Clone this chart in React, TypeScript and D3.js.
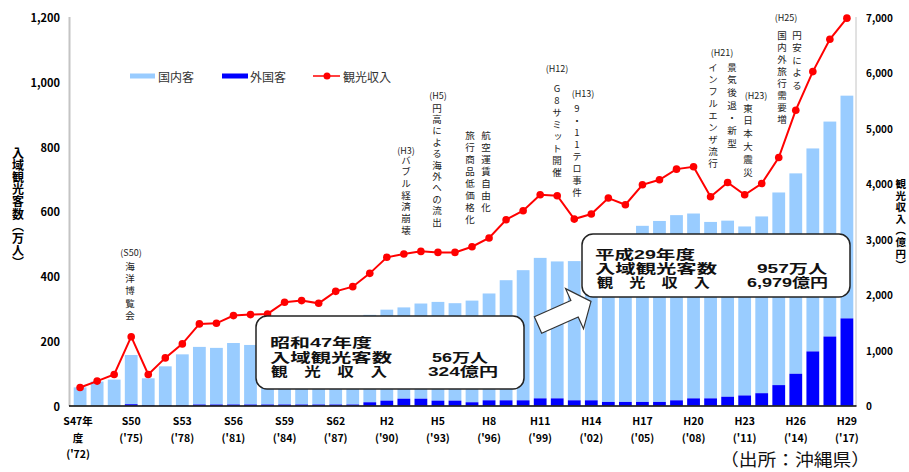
import React from 'react';
import * as d3 from 'd3';

// Fiscal years S47 (1972) .. H29 (2017)
const categories = [
  'S47','S48','S49','S50','S51','S52','S53','S54','S55','S56','S57','S58','S59','S60','S61','S62','S63',
  'H1','H2','H3','H4','H5','H6','H7','H8','H9','H10','H11','H12','H13','H14','H15','H16','H17','H18','H19',
  'H20','H21','H22','H23','H24','H25','H26','H27','H28','H29',
];
// 入域観光客数 total (万人)
const totalVisitors = [
  56, 74, 80, 156, 84, 121, 158, 181, 178, 193, 187, 191, 199, 203, 215, 241, 262,
  280, 296, 303, 315, 320, 316, 324, 346, 387, 418, 456, 445, 446, 483, 508, 515, 555, 570, 588,
  593, 567, 571, 553, 584, 658, 717, 794, 877, 957,
];
// 外国客 (万人)
const foreignVisitors = [
  0, 0, 0, 4, 1, 1, 1, 3, 3, 3, 3, 3, 3, 3, 3, 3, 3,
  10, 15, 21, 21, 15, 15, 10, 16, 16, 16, 22, 22, 16, 16, 11, 11, 11, 11, 16,
  22, 22, 27, 31, 38, 63, 98, 167, 213, 269,
];
// 観光収入 (億円)
const tourismRevenue = [
  324, 440, 558, 1240, 558, 858, 1110, 1470, 1481, 1620, 1638, 1650, 1860, 1890, 1841, 2057, 2141,
  2381, 2670, 2730, 2777, 2759, 2759, 2861, 3018, 3347, 3509, 3797, 3779, 3359, 3450, 3738, 3617, 3977, 4067, 4259,
  4301, 3760, 4018, 3797, 4000, 4468, 5321, 6016, 6599, 6979,
];
const leftTicks = [0, 200, 400, 600, 800, 1000, 1200];
const rightTicks = [0, 1000, 2000, 3000, 4000, 5000, 6000, 7000];
const xTickCats = ['S47','S50','S53','S56','S59','S62','H2','H5','H8','H11','H14','H17','H20','H23','H26','H29'];
const xTickLabels = [
  ['S47年', '度', "('72)"], ['S50', "('75)"], ['S53', "('78)"], ['S56', "('81)"], ['S59', "('84)"],
  ['S62', "('87)"], ['H2', "('90)"], ['H5', "('93)"], ['H8', "('96)"], ['H11', "('99)"], ['H14', "('02)"],
  ['H17', "('05)"], ['H20', "('08)"], ['H23', "('11)"], ['H26', "('14)"], ['H29', "('17)"],
];
const legendLabels = ['国内客', '外国客', '観光収入'];
const leftTitle = '入域観光客数（万人）';
const rightTitle = '観光収入（億円）';

const annotations = [
  { label: '(S50)', lx: 131, ly: 252, cols: [{ t: '海洋博覧会', x: 130, y: 266, s: 12.3 }] },
  { label: '(H3)', lx: 406, ly: 150, cols: [{ t: 'バブル経済崩壊', x: 406, y: 160, s: 11.7 }] },
  { label: '(H5)', lx: 438, ly: 95, cols: [{ t: '円高による海外への流出', x: 437, y: 108, s: 11.4 }] },
  { label: '', lx: 0, ly: 0, cols: [{ t: '航空運賃自由化', x: 486, y: 135, s: 12 }, { t: '旅行商品低価格化', x: 470, y: 135, s: 12.1 }] },
  { label: '(H12)', lx: 557, ly: 68, cols: [{ t: 'G8サミット開催', x: 557, y: 88, s: 12.1 }] },
  { label: '(H13)', lx: 583, ly: 93, cols: [{ t: '9・11テロ事件', x: 577, y: 108, s: 12.1 }] },
  { label: '(H21)', lx: 722, ly: 52, cols: [{ t: '景気後退・新型', x: 732, y: 67, s: 12.7 }, { t: 'インフルエンザ流行', x: 713, y: 67, s: 12 }] },
  { label: '(H23)', lx: 756, ly: 95, cols: [{ t: '東日本大震災', x: 748, y: 108, s: 12.8 }] },
  { label: '(H25)', lx: 786, ly: 17, cols: [{ t: '円安による', x: 797, y: 35, s: 12.5 }, { t: '国内外旅行需要増', x: 782, y: 35, s: 12.1 }] },
];

const JP = '"Noto Sans CJK JP", "Noto Sans", sans-serif';
const LAT = '"Liberation Sans", "Noto Sans CJK JP", sans-serif';

// vertical text: one upright vertical-mode text element per character (first char centred at y0)
function VText({ t, x, y0, step, size, weight, fill }: any) {
  const chars = Array.from(t as string);
  return (
    <g>
      {chars.map((ch, j) => (
        <text key={j} x={x} y={y0 + j * step - size / 2} fontFamily={JP} fontSize={size}
          fontWeight={weight || 'normal'} fill={fill || '#222'}
          style={{ writingMode: 'vertical-rl', textOrientation: 'upright' } as any}>{ch}</text>
      ))}
    </g>
  );
}

export default function App() {
  const x = d3.scaleBand<string>().domain(categories).range([72, 855]).paddingInner(0.25).paddingOuter(0.1);
  const yL = d3.scaleLinear().domain([0, 1200]).range([405.5, 17]);
  const yR = d3.scaleLinear().domain([0, 7000]).range([405.5, 17]);
  const cx = (c: string) => (x(c) as number) + x.bandwidth() / 2;
  const line = d3.line<number>().x((_, i) => cx(categories[i])).y((d) => yR(d));
  const fmt = d3.format(',');

  const ang = -24;
  const arrowPts = [[0, -9], [40, -9], [40, -22], [58, 0], [40, 22], [40, 9], [0, 9]].map((p) => p.join(',')).join(' ');

  return (
    <svg width={909} height={472} lang="ja" style={{ position: 'absolute', left: 0, top: 0, background: '#fff' }}>
      <rect width={909} height={472} fill="#fff" />
      {/* bars */}
      {categories.map((c, i) => (
        <g key={c}>
          <rect x={x(c)} width={x.bandwidth()} y={yL(totalVisitors[i])}
            height={yL(foreignVisitors[i]) - yL(totalVisitors[i])} fill="#99CCFF" />
          {foreignVisitors[i] > 0 && (
            <rect x={x(c)} width={x.bandwidth()} y={yL(foreignVisitors[i])}
              height={yL(0) - yL(foreignVisitors[i])} fill="#0000FF" />
          )}
        </g>
      ))}
      {/* revenue line */}
      <path d={line(tourismRevenue) as string} fill="none" stroke="#FF0000" strokeWidth={2} />
      {tourismRevenue.map((v, i) => (
        <circle key={i} cx={cx(categories[i])} cy={yR(v)} r={3.8} fill="#FF0000" />
      ))}
      {/* axes */}
      <line x1={69.5} x2={69.5} y1={17} y2={406} stroke="#c4c4c4" strokeWidth={2} />
      <line x1={856} x2={856} y1={17} y2={406} stroke="#c4c4c4" strokeWidth={1} />
      <line x1={69} x2={856.5} y1={406} y2={406} stroke="#000" strokeWidth={1.5} />
      {leftTicks.map((t) => (
        <text key={t} x={60} y={yL(t)} textAnchor="end" dominantBaseline="central"
          fontFamily={JP} fontWeight="bold" fontSize={11}>{fmt(t)}</text>
      ))}
      {rightTicks.map((t) => (
        <text key={t} x={866} y={yR(t)} textAnchor="start" dominantBaseline="central"
          fontFamily={JP} fontWeight="bold" fontSize={10}>{fmt(t)}</text>
      ))}
      {xTickCats.map((c, k) => (
        <g key={c}>
          {xTickLabels[k].map((s, j) => (
            <text key={j} x={cx(c) - (k === 0 ? 2 : 0)} y={425 + j * 16.5} fontFamily={JP} fontWeight="bold"
              fontSize={10.5} textAnchor="middle">{s}</text>
          ))}
        </g>
      ))}
      {/* axis titles (vertical) */}
      <VText t={leftTitle} x={18} y0={153} step={12.2} size={12} weight="bold" fill="#000" />
      <VText t={rightTitle} x={900.8} y0={184} step={11.6} size={10.5} weight="bold" fill="#000" />
      {/* legend */}
      <rect x={130} y={73.5} width={25} height={5} fill="#99CCFF" />
      <text x={158} y={76} dominantBaseline="central" fontFamily={JP} fontSize={12} fill="#333">{legendLabels[0]}</text>
      <rect x={222} y={73.5} width={26} height={5} fill="#0000FF" />
      <text x={250} y={76} dominantBaseline="central" fontFamily={JP} fontSize={12} fill="#333">{legendLabels[1]}</text>
      <line x1={313} x2={340} y1={76} y2={76} stroke="#FF0000" strokeWidth={1.5} />
      <circle cx={327} cy={76} r={3.5} fill="#FF0000" />
      <text x={343} y={76} dominantBaseline="central" fontFamily={JP} fontSize={12} fill="#333">{legendLabels[2]}</text>
      {/* annotations */}
      {annotations.map((a, k) => (
        <g key={k}>
          {a.label && (
            <text x={a.lx} y={a.ly} textAnchor="middle" dominantBaseline="central" fontFamily={JP} fontSize={9} fill="#222">{a.label}</text>
          )}
          {a.cols.map((col, ci) => (
            <VText key={ci} t={col.t} x={col.x} y0={col.y} step={col.s} size={9.5} fill="#222" />
          ))}
        </g>
      ))}
      {/* callout 1 */}
      <rect x={256} y={316} width={268} height={73} rx={11} fill="#fff" stroke="#222" strokeWidth={1.5} />
      <g fontFamily={LAT} fontWeight="bold" fontSize={13} fill="#111">
        <text x={270} y={347} textLength={102} lengthAdjust="spacingAndGlyphs">昭和47年度</text>
        <text x={270} y={362} textLength={122} lengthAdjust="spacingAndGlyphs">入域観光客数</text>
        <text x={432} y={362} textLength={56} lengthAdjust="spacingAndGlyphs">56万人</text>
        <text x={271} y={376} textLength={116} lengthAdjust="spacingAndGlyphs">観　光　収　入</text>
        <text x={428} y={376} textLength={70} lengthAdjust="spacingAndGlyphs">324億円</text>
      </g>
      {/* arrow */}
      <polygon points={arrowPts} transform={`translate(538,325) rotate(${ang})`} fill="#fff" stroke="#333" strokeWidth={1.2} />
      {/* callout 2 */}
      <rect x={582} y={234} width={268} height={63} rx={11} fill="#fff" stroke="#222" strokeWidth={1.5} />
      <g fontFamily={LAT} fontWeight="bold" fontSize={13} fill="#111">
        <text x={595} y={259} textLength={100} lengthAdjust="spacingAndGlyphs">平成29年度</text>
        <text x={595} y={273} textLength={122} lengthAdjust="spacingAndGlyphs">入域観光客数</text>
        <text x={757} y={273} textLength={70} lengthAdjust="spacingAndGlyphs">957万人</text>
        <text x={597} y={287} textLength={113} lengthAdjust="spacingAndGlyphs">観　光　収　入</text>
        <text x={747} y={287} textLength={81} lengthAdjust="spacingAndGlyphs">6,979億円</text>
      </g>
      {/* source */}
      <text x={720} y={466} fontFamily={JP} fontSize={17} fill="#111" textLength={150} lengthAdjust="spacingAndGlyphs">（出所：沖縄県）</text>
    </svg>
  );
}
